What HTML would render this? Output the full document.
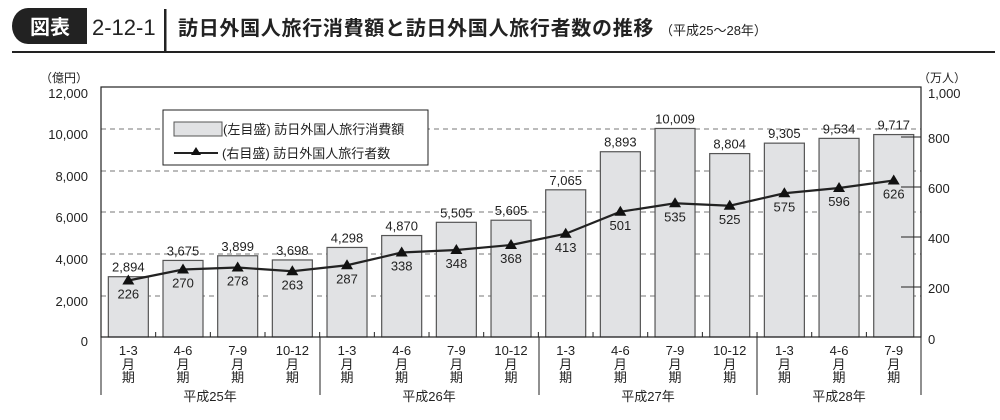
<!DOCTYPE html>
<html><head><meta charset="utf-8"><style>
body{margin:0;background:#fff;width:1000px;height:415px;overflow:hidden}
svg text{font-family:"Liberation Sans","Noto Sans CJK JP",sans-serif;fill:#222}
</style></head><body>
<svg width="1000" height="415" viewBox="0 0 1000 415" xmlns="http://www.w3.org/2000/svg">
<path d="M28 8 H87 V44 H28 A16 18 0 0 1 12 26 A16 18 0 0 1 28 8Z" fill="#222"/>
<text x="50" y="34" font-size="20" font-weight="bold" text-anchor="middle" style="fill:#fff">図表</text>
<text x="92" y="35" font-size="22">2-12-1</text>
<rect x="164" y="9" width="2.5" height="42" fill="#222"/>
<text x="178" y="35" font-size="20" font-weight="bold" letter-spacing="0.7">訪日外国人旅行消費額と訪日外国人旅行者数の推移</text>
<text x="660" y="35" font-size="13">（平成25～28年）</text>
<rect x="12" y="51" width="983" height="2" fill="#222"/>
<text x="40" y="82" font-size="12">（億円）</text>
<text x="918" y="82" font-size="12">（万人）</text>
<g font-size="13" text-anchor="end">
<text x="88" y="98">12,000</text><text x="88" y="139">10,000</text><text x="88" y="181">8,000</text><text x="88" y="222">6,000</text><text x="88" y="264">4,000</text><text x="88" y="306">2,000</text><text x="88" y="346">0</text>
</g>
<g font-size="13">
<text x="928" y="98">1,000</text><text x="928" y="143">800</text><text x="928" y="193">600</text><text x="928" y="243">400</text><text x="928" y="293">200</text><text x="928" y="344">0</text>
</g>
<g stroke="#777" stroke-dasharray="5,4" stroke-width="1">
<line x1="101" y1="129" x2="921" y2="129"/><line x1="101" y1="171" x2="921" y2="171"/><line x1="101" y1="212" x2="921" y2="212"/><line x1="101" y1="254" x2="921" y2="254"/><line x1="101" y1="296" x2="921" y2="296"/>
</g>
<g id="bars" fill="#e1e2e4" stroke="#555" stroke-width="1.2"></g>
<rect x="101" y="87" width="820" height="250" fill="none" stroke="#222" stroke-width="1.2"/>
<g stroke="#222" stroke-width="1">
<line x1="901" y1="137" x2="921" y2="137"/><line x1="901" y1="187" x2="921" y2="187"/><line x1="901" y1="237" x2="921" y2="237"/><line x1="901" y1="287" x2="921" y2="287"/>
<line x1="101" y1="337" x2="101" y2="395"/><line x1="320" y1="337" x2="320" y2="395"/><line x1="539" y1="337" x2="539" y2="395"/><line x1="757" y1="337" x2="757" y2="395"/><line x1="921" y1="337" x2="921" y2="395"/>
</g>
<g id="ticks" stroke="#222"></g>
<polyline id="line" fill="none" stroke="#222" stroke-width="2.2"/>
<g id="tri" fill="#111"></g>
<g id="lab" font-size="13" text-anchor="middle"></g>
<g font-size="13" text-anchor="middle">
<text x="210" y="401">平成25年</text><text x="429" y="401">平成26年</text><text x="648" y="401">平成27年</text><text x="839" y="401">平成28年</text>
</g>
<rect x="163" y="110" width="265" height="55" fill="#fff" stroke="#222" stroke-width="1"/>
<rect x="174" y="122" width="48" height="14" fill="#e1e2e4" stroke="#555"/>
<text x="223" y="134" font-size="13">(左目盛) 訪日外国人旅行消費額</text>
<line x1="174" y1="153" x2="218" y2="153" stroke="#222" stroke-width="2"/>
<path d="M196 147 L201 155 L191 155Z" fill="#111"/>
<text x="222" y="158" font-size="13">(右目盛) 訪日外国人旅行者数</text>
</svg>
<script>
const v=[2894,3675,3899,3698,4298,4870,5505,5605,7065,8893,10009,8804,9305,9534,9717];
const p=[226,270,278,263,287,338,348,368,413,501,535,525,575,596,626];
const q=["1-3","4-6","7-9","10-12"];
const ns="http://www.w3.org/2000/svg";
function el(t,a,par,txt){const e=document.createElementNS(ns,t);for(const k in a)e.setAttribute(k,a[k]);if(txt!==undefined)e.textContent=txt;document.getElementById(par).appendChild(e);}
let pts=[];
for(let i=0;i<15;i++){
 const cx=101+54.67*(i+0.5);
 const top=337-v[i]*250/12000;
 el("rect",{x:cx-20,y:top,width:40,height:337-top},"bars");
 const x0=101+54.67*i;
 if(i>0)el("line",{x1:x0,y1:337,x2:x0,y2:332},"ticks");
 const py=337-p[i]*0.25;
 pts.push(cx+","+py);
 el("path",{d:`M${cx} ${py-6} L${cx+6} ${py+4} L${cx-6} ${py+4}Z`},"tri");
 el("text",{x:cx,y:top-5},"lab",v[i].toLocaleString("en-US"));
 el("text",{x:cx,y:py+18},"lab",p[i]);
 el("text",{x:cx,y:355},"lab",q[i%4]);
 el("text",{x:cx,y:369},"lab","月");
 el("text",{x:cx,y:382},"lab","期");
}
document.getElementById("line").setAttribute("points",pts.join(" "));
</script>
</body></html>
